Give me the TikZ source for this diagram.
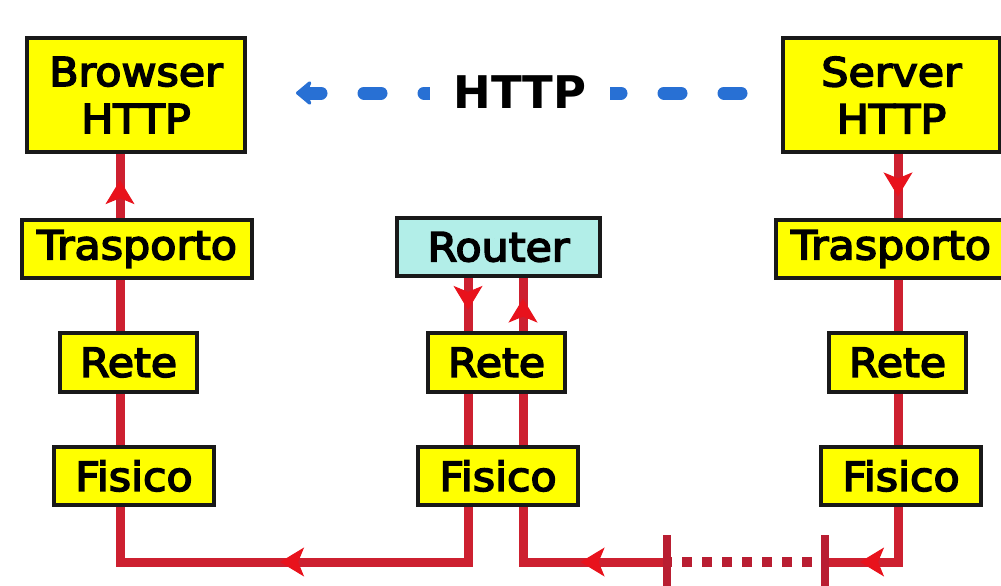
\documentclass[tikz,border=0pt]{standalone}
\usepackage{fontspec}
\newfontfamily\boxfont{DejaVu Sans}[FakeStretch=1.07,FakeBold=4]
\newfontfamily\labfont{DejaVu Sans}
\usetikzlibrary{arrows.meta,decorations.markings}
\pgfdeclarelayer{bg}
\pgfsetlayers{bg,main}
\definecolor{boxyellow}{RGB}{255,255,0}
\definecolor{routercyan}{RGB}{178,238,232}
\definecolor{wirered}{RGB}{205,32,48}
\definecolor{tipred}{RGB}{232,18,28}
\definecolor{darkwire}{RGB}{185,30,50}
\definecolor{httpblue}{RGB}{40,112,212}
\tikzset{
  layerbox/.style={draw=black!90, line width=3.2pt, fill=boxyellow, inner sep=0pt,
    font={\boxfont\fontsize{40}{47}\selectfont}, align=center},
  routerbox/.style={layerbox, fill=routercyan},
  wire/.style={draw=wirered, line width=9pt, line join=miter},
  tipat/.style={decoration={markings, mark=at position #1 with
    {\arrow[tipred, line width=1pt]{Stealth[length=24pt,width=29pt,inset=6pt]}}},
    postaction={decorate}},
  barline/.style={draw=darkwire, line width=8pt},
  dotline/.style={draw=darkwire, line width=10pt, dash pattern=on 10pt off 10pt, dash phase=5pt},
  httpline/.style={draw=httpblue, line width=13pt, line cap=round,
    dash pattern=on 17pt off 43pt, -{Stealth[length=18pt,width=30pt,round]}},
  httplabel/.style={fill=white, inner sep=0pt, minimum width=180pt, minimum height=44pt,
    font={\labfont\bfseries\fontsize{45}{54}\selectfont}}
}
\begin{document}
\begin{tikzpicture}[x=1pt,y=-1pt]
\useasboundingbox (0,0) rectangle (1001,586);

% nodes
\node[layerbox, minimum width=218pt, minimum height=114pt] (browser) at (136,95) {Browser\\HTTP};
\node[layerbox, minimum width=230pt, minimum height=58pt] (trL) at (137,249) {Trasporto};
\node[layerbox, minimum width=137pt, minimum height=59pt] (reteL) at (128.5,362.5) {Rete};
\node[layerbox, minimum width=160pt, minimum height=58pt] (fisL) at (134,476) {Fisico};

\node[routerbox, minimum width=203pt, minimum height=58pt] (router) at (498.5,247) {Router};
\node[layerbox, minimum width=137pt, minimum height=59pt] (reteM) at (496.5,362.5) {Rete};
\node[layerbox, minimum width=160pt, minimum height=58pt] (fisM) at (498,476) {Fisico};

\node[layerbox, minimum width=217pt, minimum height=114pt] (server) at (891.5,95) {Server\\HTTP};
\node[layerbox, minimum width=230pt, minimum height=58pt] (trR) at (891,249) {Trasporto};
\node[layerbox, minimum width=137pt, minimum height=59pt] (reteR) at (897.5,362.5) {Rete};
\node[layerbox, minimum width=160pt, minimum height=58pt] (fisR) at (901,476) {Fisico};

% helper coordinates
\coordinate (xL) at (120,0);
\coordinate (xML) at (468,0);
\coordinate (xMR) at (523,0);
\coordinate (xR) at (898,0);
\coordinate (yB) at (0,562);
\coordinate (barL) at (667,562);
\coordinate (barR) at (825,562);
\coordinate (barLtop) at (667,535);
\coordinate (barLbot) at (667,600);
\coordinate (barRtop) at (825,535);
\coordinate (barRbot) at (825,600);
\coordinate (httpR) at (741,93);
\coordinate (httpL) at (296,93);

\begin{pgfonlayer}{bg}
  \fill[white] (0,0) rectangle (1001,586);
  % HTTP dashed link
  \draw[httpline] (httpR) -- (httpL);
  % wires
  \draw[wire] (server.south -| xR) -- (yB -| xR) -- (barR);
  \draw[wire] (barL) -- (yB -| xMR) -- (router.south -| xMR);
  \draw[wire] (router.south -| xML) -- (yB -| xML) -- (yB -| xL) -- (browser.south -| xL);
\end{pgfonlayer}

\node[httplabel] (http) at (520,92) {HTTP};

% line segment
\draw[dotline] (barL) -- (barR);
\draw[barline] (barLtop) -- (barLbot);
\draw[barline] (barRtop) -- (barRbot);

% arrow heads
\path[tipat=0.66] (server.south -| xR) -- (trR.north -| xR);
\path[tipat=0.52] (yB -| xR) -- (barR);
\path[tipat=0.6] (barL) -- (yB -| xMR);
\path[tipat=0.61] (reteM.north -| xMR) -- (router.south -| xMR);
\path[tipat=0.6] (router.south -| xML) -- (reteM.north -| xML);
\path[tipat=0.54] (yB -| xML) -- (yB -| xL);
\path[tipat=0.59] (trL.north -| xL) -- (browser.south -| xL);
\end{tikzpicture}
\end{document}
